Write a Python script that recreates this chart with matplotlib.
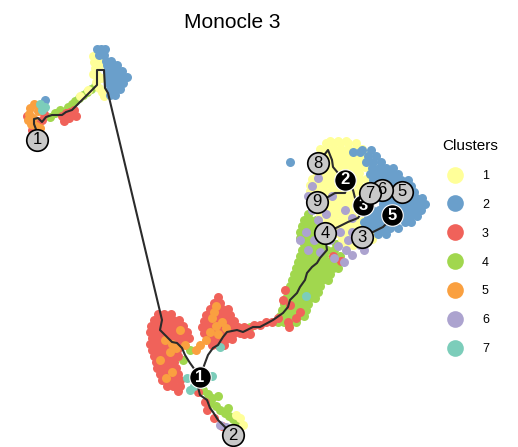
import matplotlib
matplotlib.use("Agg")
import matplotlib.pyplot as plt
from matplotlib.lines import Line2D
import numpy as np

plt.rcParams['font.family'] = ['Liberation Sans', 'DejaVu Sans']

cluster_names = ['1', '2', '3', '4', '5', '6', '7']
cluster_colors = ['#FFFF99', '#6A9FCB', '#F0625A', '#A1D74E', '#FAA040', '#ACA3CF', '#7CCDBA']

# cell embedding, stored as rows: (umap2, [umap1, ...]); umap2 axis is flipped
cells_1 = [
    (141, [330, 338, 346]),
    (143, [326, 333, 340, 348, 356]),
    (149, [320, 327, 334, 341, 348, 355, 362]),
    (155, [323, 330, 337, 344, 351, 358, 365]),
    (161, [327, 334, 341, 348, 355, 362]),
    (167, [323, 330, 337, 344, 351, 358, 365]),
    (173, [317, 324, 331, 338, 345, 352, 359]),
    (179, [312, 319, 326, 333, 340, 352, 359, 366]),
    (185, [310, 317, 324, 331, 338, 345, 352, 359]),
    (191, [310, 317, 324, 331, 338, 345, 352, 360]),
    (197, [312, 319, 326, 333, 340, 347, 354]),
    (203, [313, 320, 327, 334, 341, 348, 355, 362]),
    (209, [315, 322, 329, 336, 343, 350, 357]),
    (215, [320, 327, 334, 341, 348, 355, 368]),
    (221, [327, 334, 341, 348, 355, 362]),
    (227, [332, 339, 346, 353, 360]),
    (233, [338, 345, 352, 370, 378]),
    (239, [342, 349, 356, 364, 372]),
    (245, [346, 353, 362]),
    (56, [93]), (60, [100]), (62, [94]), (66, [99]), (68, [95]), (74, [93]),
    (75, [97]), (78, [101]), (82, [96]), (88, [99]), (90, [88]), (92, [102]),
    (96, [104, 80]),
    (415, [236]), (418, [240]), (425, [243]),
]

cells_2 = [
    (150, [362, 371]),
    (156, [368, 376]),
    (162, [366, 373, 381]),
    (168, [372, 379, 386, 393]),
    (174, [370, 377, 384, 391, 398]),
    (180, [373, 380, 387, 394, 401, 408]),
    (186, [376, 383, 390, 397, 404, 411]),
    (192, [379, 386, 393, 400, 407, 414]),
    (198, [381, 388, 395, 402, 409, 416, 422]),
    (204, [383, 390, 397, 404, 411, 418, 425]),
    (210, [372, 379, 386, 393, 400, 407, 414, 421]),
    (216, [368, 375, 382, 389, 403, 410, 417]),
    (222, [364, 371, 378, 386, 405, 411]),
    (228, [367, 374, 382, 390, 398]),
    (234, [378, 386]),
    (162, [290]), (152, [353, 360]), (172, [373]),
    (49, [97, 101, 105]),
    (55, [99, 104]),
    (61, [106, 111]),
    (65, [107, 112, 117]),
    (71, [107, 112, 117, 122]),
    (77, [108, 113, 118, 123, 127]),
    (83, [108, 113, 118, 123]),
    (89, [110, 115, 120]),
    (95, [110, 115]),
    (100, [45]),
]

cells_3 = [
    (314, [158, 164, 171]),
    (320, [154, 160, 167, 173, 179]),
    (326, [151, 157, 164, 170, 177, 183]),
    (332, [150, 156, 163, 169, 175, 181, 187]),
    (338, [152, 158, 164, 171, 177, 183, 189]),
    (344, [150, 156, 162, 169, 175, 181]),
    (350, [152, 158, 165, 171, 177]),
    (356, [154, 160, 166, 172, 178]),
    (362, [156, 162, 168, 174]),
    (368, [157, 164, 170, 176]),
    (374, [160, 166, 172, 178]),
    (380, [162, 168, 174, 180]),
    (386, [167, 173, 180]),
    (391, [178]),
    (297, [218]),
    (303, [214, 220]),
    (309, [210, 216, 222, 228]),
    (315, [206, 212, 218, 224, 230]),
    (321, [204, 210, 216, 222, 228, 234]),
    (327, [202, 208, 214, 220, 226, 232, 238, 244]),
    (333, [204, 210, 216, 222, 228, 234, 240]),
    (339, [208, 214, 220, 226, 232]),
    (345, [212, 218, 224]),
    (322, [266, 272]), (325, [254, 260]), (329, [248]), (334, [244, 250]),
    (290, [285]), (300, [283]), (305, [290]), (312, [300]), (318, [278, 296]),
    (322, [288]), (327, [289]),
    (256, [333]), (261, [341]),
    (392, [198]), (402, [205]), (410, [207]), (418, [214]), (426, [222]),
    (110, [74]), (112, [70]), (113, [66]), (116, [62, 76]), (118, [69]), (121, [64]),
    (114, [44]), (116, [27]), (120, [42]), (122, [38]), (130, [32]),
]

cells_4 = [
    (322, [278, 284, 290, 296]),
    (316, [280, 286, 292, 298, 304]),
    (310, [282, 288, 294, 300, 306]),
    (304, [284, 290, 296, 302, 308]),
    (298, [286, 292, 298, 304, 310, 315]),
    (292, [288, 294, 300, 306, 312, 318]),
    (286, [290, 296, 302, 308, 314, 320]),
    (280, [292, 298, 304, 310, 316, 322, 328]),
    (274, [294, 300, 306, 312, 318, 323, 330]),
    (268, [296, 302, 308, 314, 320, 326, 333, 338]),
    (262, [298, 304, 310, 316, 322, 328, 334]),
    (256, [300, 306, 312, 318, 324, 340]),
    (250, [302, 308, 314, 320, 327, 334]),
    (244, [304, 310, 316, 322, 336]),
    (238, [300, 306, 312, 344]),
    (232, [300, 306, 312, 340]),
    (226, [302, 308, 314]),
    (220, [304, 310, 316]),
    (214, [308]),
    (332, [242]), (327, [250]),
    (390, [203]), (394, [208]), (398, [212]), (403, [210]), (406, [216]),
    (410, [220]), (413, [225]), (416, [229]), (419, [233]), (422, [237]),
    (425, [241]), (428, [236]), (396, [218]), (408, [228]),
    (350, [190]), (355, [176]), (360, [183]),
    (86, [95]), (89, [91]), (92, [87]), (95, [83]), (98, [79]), (101, [75]),
    (104, [72]), (107, [68]), (110, [60]), (113, [55]), (117, [50]),
]

cells_5 = [
    (306, [216]), (312, [214]), (318, [212]), (322, [222]), (326, [216]),
    (328, [226]), (332, [210]), (334, [218]), (340, [206]), (345, [200]),
    (350, [196]),
    (330, [180]), (340, [165]), (344, [172]), (345, [185]), (348, [176]),
    (352, [170]), (360, [160]), (372, [172]), (378, [166]),
    (104, [34]), (108, [30]), (111, [38]), (114, [29]), (118, [33]),
    (120, [28]), (124, [31]), (126, [36]), (128, [40]),
]

cells_6 = [
    (178, [318]), (186, [312]), (196, [308, 332]), (210, [312, 345]),
    (214, [326]), (218, [352]), (220, [318]), (228, [322]),
    (232, [306, 340, 352]), (236, [366]), (238, [356]),
    (240, [300, 314, 330, 348]), (245, [360]), (246, [338]),
    (250, [308, 346, 364]), (252, [320]), (255, [352]), (258, [334]),
    (262, [344]),
    (425, [220]), (427, [226]),
]

cells_7 = [
    (104, [40]), (107, [45]), (110, [42]),
    (376, [212]), (378, [187]), (386, [194]), (390, [190]),
    (347, [220]), (296, [306]),
]

# principal graph
trajectory = [
    [(37, 132), (34, 124), (34, 119), (38, 118), (42, 122), (46, 117), (52, 115),
     (62, 115), (66, 112), (72, 110), (97, 85), (97, 70), (104, 70), (105, 88),
     (108, 93), (162, 320), (160, 330), (165, 335), (172, 342), (177, 343),
     (182, 348), (185, 355), (190, 363), (195, 370), (200, 377)],
    [(200, 377), (205, 363), (208, 355), (213, 348), (218, 345), (223, 337),
     (227, 332), (237, 330), (243, 332), (253, 327), (260, 327), (273, 320),
     (283, 313), (288, 307), (290, 300), (297, 293), (300, 287), (305, 280),
     (307, 273), (312, 267), (317, 263), (320, 258), (327, 250), (325, 235)],
    [(200, 377), (198, 387), (200, 395), (207, 400), (210, 408), (213, 412),
     (218, 420), (223, 425), (233, 435)],
    [(318, 163), (328, 150), (332, 160), (333, 167), (338, 173), (345, 180),
     (353, 190), (355, 198), (363, 205)],
    [(317, 202), (328, 197), (335, 193), (345, 193), (347, 187), (345, 180)],
    [(325, 233), (338, 227), (348, 222), (358, 218), (362, 212), (363, 205)],
    [(362, 237), (373, 232), (383, 227), (388, 222), (392, 215)],
    [(363, 205), (370, 193), (382, 190), (402, 192)],
]

# graph nodes: branch points are black, leaves are grey
branch_labels = ['3', '1', '2', '5']
branch_x = [363, 200, 345, 392]
branch_y = [205, 377, 180, 215]
leaf_labels = ['1', '2', '8', '9', '4', '3', '5', '6', '7']
leaf_x = [37, 233, 318, 317, 325, 362, 402, 382, 370]
leaf_y = [140, 435, 163, 202, 233, 237, 192, 190, 193]


def expand(rows):
    xs, ys = [], []
    for y, row in rows:
        xs.extend(row)
        ys.extend([y] * len(row))
    return np.array(xs, float), np.array(ys, float)


fig = plt.figure(figsize=(5.18, 4.47), dpi=100)
ax = fig.add_axes([0, 0, 1, 1])
ax.set_xlim(0, 518)
ax.set_ylim(447, 0)
ax.axis('off')

all_cells = [cells_1, cells_2, cells_3, cells_4, cells_5, cells_6, cells_7]
draw_order = [3, 0, 1, 2, 4, 5, 6]
for i in draw_order:
    x, y = expand(all_cells[i])
    ax.scatter(x, y, s=42, color=cluster_colors[i], linewidths=0, zorder=2)

for path in trajectory:
    px, py = zip(*path)
    ax.plot(px, py, color='#2b2b2b', lw=1.5, zorder=3, solid_capstyle='round')

ax.scatter(branch_x, branch_y, s=240, color='black', edgecolors='white',
           linewidths=0.8, zorder=4)
for lab, x, y in zip(branch_labels, branch_x, branch_y):
    ax.text(x, y, lab, color='white', fontsize=12, ha='center', va='center',
            fontweight='bold', zorder=5)

for lab, x, y in zip(leaf_labels, leaf_x, leaf_y):
    ax.scatter([x], [y], s=240, color='#C8C8C8', edgecolors='black',
               linewidths=1.2, zorder=6)
    ax.text(x, y, lab, color='black', fontsize=12, ha='center', va='center',
            zorder=7)

fig.text(232 / 518, 1 - 22 / 447, 'Monocle 3', fontsize=15,
         ha='center', va='center')

handles = [Line2D([], [], marker='o', ls='', markersize=12, color=c,
                  markeredgewidth=0) for c in cluster_colors]
ax.legend(handles, cluster_names, title='Clusters', loc='upper left',
          bbox_to_anchor=(437 / 518, 1 - 134 / 447),
          bbox_transform=fig.transFigure, frameon=False, fontsize=9,
          title_fontsize=11, labelspacing=1.35, handletextpad=1.2,
          alignment='left', borderaxespad=0)

fig.savefig('out.png', dpi=100)
